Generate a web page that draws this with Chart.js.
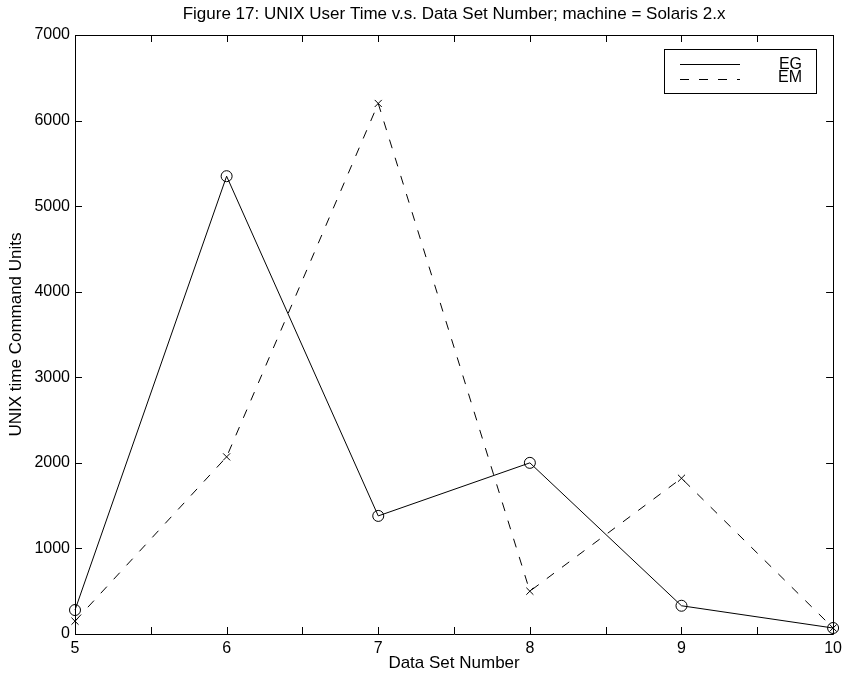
<!DOCTYPE html>
<html>
<head>
<meta charset="utf-8">
<script src="https://cdn.jsdelivr.net/npm/chart.js@4/dist/chart.umd.min.js"></script>
<style>
  html, body { margin: 0; padding: 0; background: #fff; }
  #wrap { width: 847px; height: 682px; }
</style>
</head>
<body>
<div id="wrap"><canvas id="c" width="847" height="682"></canvas></div>
<script>
// Data set numbers and UNIX user time per method
const dataSetNumbers = [5, 6, 7, 8, 9, 10];
const egValues = [280, 5350, 1380, 2000, 330, 70];
const emValues = [150, 2070, 6200, 500, 1820, 70];
const yTickValues = [0, 1000, 2000, 3000, 4000, 5000, 6000, 7000];
const seriesNames = ['EG', 'EM'];
const titleText = 'Figure 17: UNIX User Time v.s. Data Set Number; machine = Solaris 2.x';

const FONT = 'Liberation Sans, Arial, Helvetica, sans-serif';
const AXIS_FONT_SIZE = 16;
const LABEL_FONT_SIZE = 17;
const EM_DASH = [9, 10];

function toPoints(values) {
  return dataSetNumbers.map((x, i) => ({ x: x, y: values[i] }));
}

// Frame, inward tick marks, title and legend box
const framePlugin = {
  id: 'frame',
  afterDatasetsDraw(chart) {
    const ctx = chart.ctx;
    const a = chart.chartArea;
    const xs = chart.scales.x;
    const ys = chart.scales.y;
    const tl = 7;
    ctx.save();
    ctx.strokeStyle = '#000';
    ctx.lineWidth = 1;
    ctx.beginPath();
    ctx.rect(Math.round(a.left) + 0.5, Math.round(a.top) + 0.5,
             Math.round(a.right - a.left), Math.round(a.bottom - a.top));
    ctx.stroke();
    ctx.beginPath();
    xs.ticks.forEach(t => {
      const px = Math.round(xs.getPixelForValue(t.value)) + 0.5;
      ctx.moveTo(px, a.bottom); ctx.lineTo(px, a.bottom - tl);
      ctx.moveTo(px, a.top); ctx.lineTo(px, a.top + tl);
    });
    ys.ticks.forEach(t => {
      const py = Math.round(ys.getPixelForValue(t.value)) + 0.5;
      ctx.moveTo(a.left, py); ctx.lineTo(a.left + tl, py);
      ctx.moveTo(a.right, py); ctx.lineTo(a.right - tl, py);
    });
    ctx.stroke();

    // title
    ctx.fillStyle = '#000';
    ctx.font = LABEL_FONT_SIZE + 'px ' + FONT;
    ctx.textAlign = 'center';
    ctx.textBaseline = 'middle';
    ctx.fillText(titleText, (a.left + a.right) / 2, 14.5);

    // legend box
    const bx = 664.5, by = 49.5, bw = 152, bh = 44;
    ctx.fillStyle = '#fff';
    ctx.fillRect(bx, by, bw, bh);
    ctx.strokeRect(bx, by, bw, bh);
    ctx.beginPath();
    ctx.moveTo(680, 64.5); ctx.lineTo(740, 64.5);
    ctx.stroke();
    ctx.setLineDash(EM_DASH);
    ctx.beginPath();
    ctx.moveTo(680, 79.5); ctx.lineTo(740, 79.5);
    ctx.stroke();
    ctx.setLineDash([]);
    ctx.fillStyle = '#000';
    ctx.font = AXIS_FONT_SIZE + 'px ' + FONT;
    ctx.textAlign = 'right';
    ctx.fillText(seriesNames[0], 802, 65);
    ctx.fillText(seriesNames[1], 802, 77.5);
    ctx.restore();
  }
};

new Chart(document.getElementById('c'), {
  type: 'line',
  data: {
    datasets: [
      {
        label: seriesNames[0],
        data: toPoints(egValues),
        borderColor: '#000',
        borderWidth: 1,
        pointStyle: 'circle',
        pointRadius: 5.5,
        pointBorderWidth: 1,
        pointBorderColor: '#000',
        pointBackgroundColor: 'rgba(0,0,0,0)',
        fill: false,
        tension: 0,
        clip: false
      },
      {
        label: seriesNames[1],
        data: toPoints(emValues),
        borderColor: '#000',
        borderWidth: 1,
        borderDash: EM_DASH,
        pointStyle: 'crossRot',
        pointRadius: 5,
        pointBorderWidth: 1,
        pointBorderColor: '#000',
        fill: false,
        tension: 0,
        clip: false
      }
    ]
  },
  options: {
    responsive: false,
    animation: false,
    devicePixelRatio: 1,
    layout: { padding: { top: 35, right: 11, left: 0, bottom: 0 } },
    plugins: {
      legend: { display: false },
      title: { display: false },
      tooltip: { enabled: false }
    },
    scales: {
      x: {
        type: 'linear',
        min: 5,
        max: 10,
        afterFit(scale) { scale.height = 48; },
        afterBuildTicks(scale) {
          const t = [];
          for (let v = 5; v <= 10.0001; v += 0.5) t.push({ value: v });
          scale.ticks = t;
        },
        ticks: {
          autoSkip: false,
          maxRotation: 0,
          padding: 5,
          color: '#000',
          font: { family: FONT, size: AXIS_FONT_SIZE },
          callback(v) { return Number.isInteger(v) ? String(v) : ''; }
        },
        grid: { display: false, drawTicks: false },
        border: { display: false },
        title: {
          display: true,
          text: 'Data Set Number',
          color: '#000',
          font: { family: FONT, size: LABEL_FONT_SIZE },
          padding: { top: 0, bottom: 8 }
        }
      },
      y: {
        type: 'linear',
        min: 0,
        max: 7000,
        afterFit(scale) { scale.width = 75; },
        afterBuildTicks(scale) {
          scale.ticks = yTickValues.map(v => ({ value: v }));
        },
        ticks: {
          autoSkip: false,
          padding: 5,
          color: '#000',
          font: { family: FONT, size: AXIS_FONT_SIZE },
          callback(v) { return String(v); }
        },
        grid: { display: false, drawTicks: false },
        border: { display: false },
        title: {
          display: true,
          text: 'UNIX time Command Units',
          color: '#000',
          font: { family: FONT, size: LABEL_FONT_SIZE },
          padding: { top: 6, bottom: 0 }
        }
      }
    }
  },
  plugins: [framePlugin]
});
</script>
</body>
</html>
